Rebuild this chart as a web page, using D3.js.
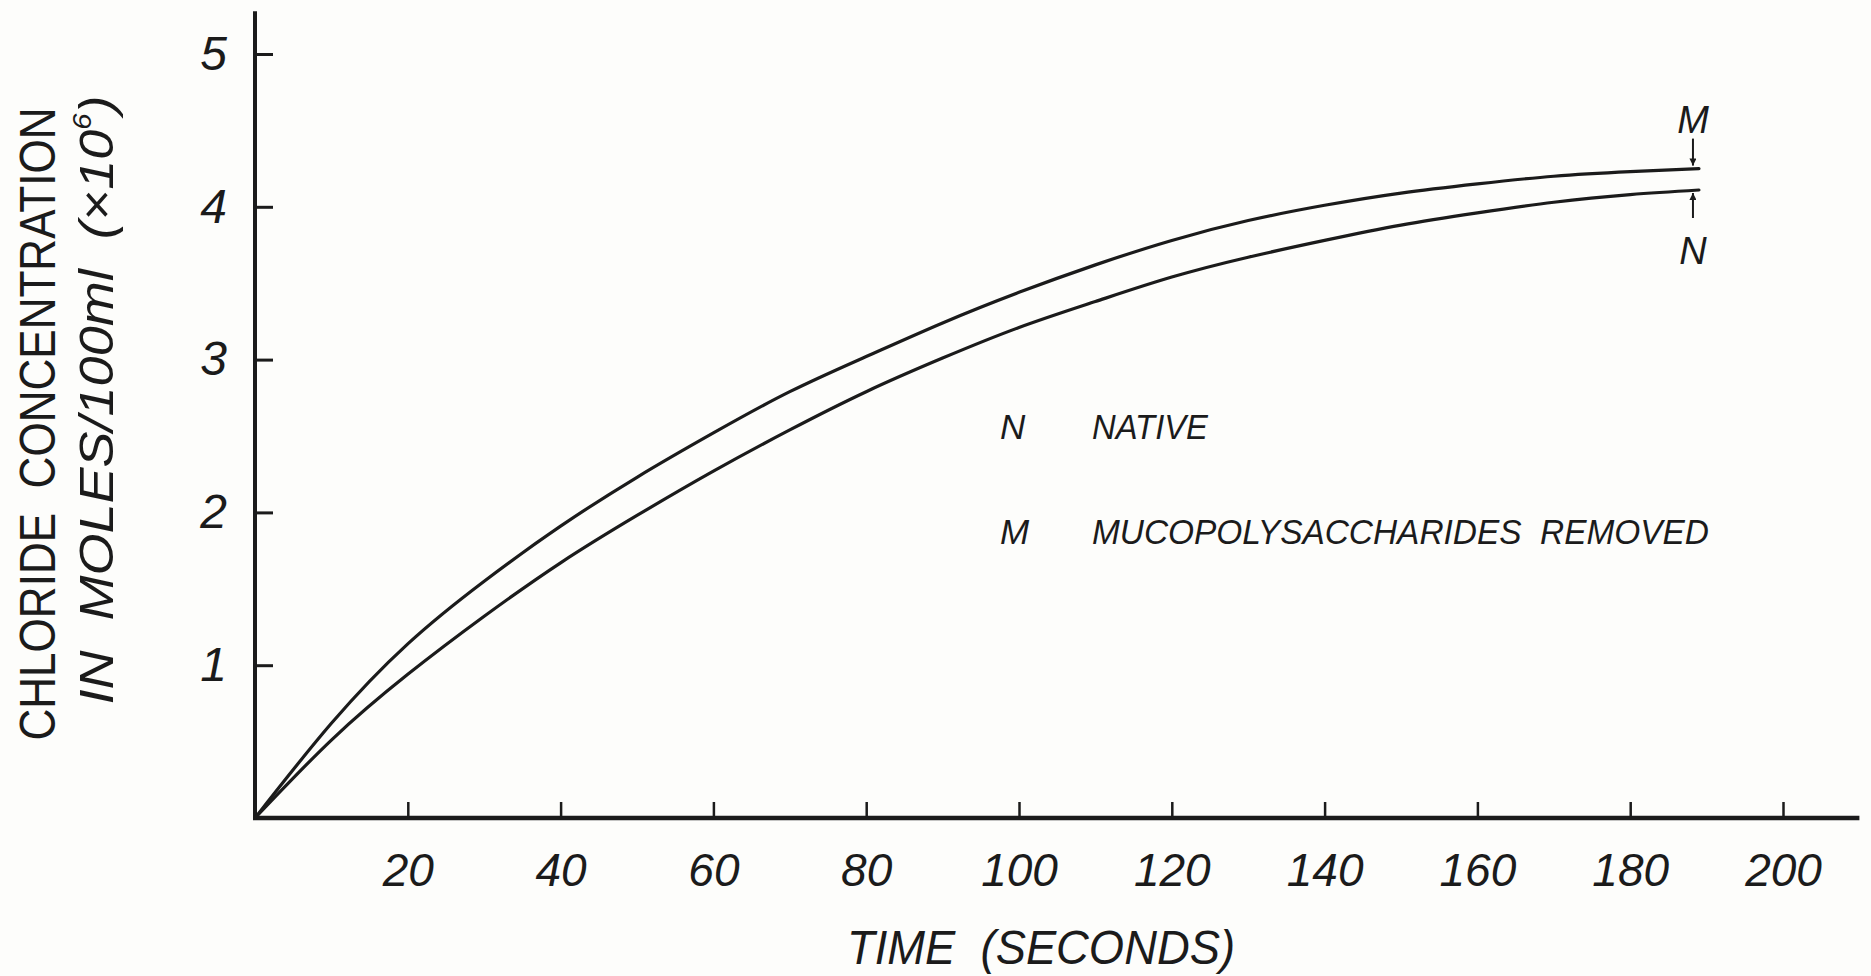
<!DOCTYPE html>
<html>
<head>
<meta charset="utf-8">
<script src="https://cdn.jsdelivr.net/npm/d3@7"></script>
<style>
  html, body { margin: 0; padding: 0; background: #fdfdfb; }
  svg { display: block; }
  text { font-family: "Liberation Sans", Arial, sans-serif; fill: #1b1b1b; }
</style>
</head>
<body>
<svg id="chart" width="1871" height="976"></svg>
<script>
// ---- data ----
const times   = [0, 10, 20, 30, 40, 50, 60, 70, 80, 90, 100, 110, 120, 130, 140, 150, 160, 170, 180, 189];
const seriesM = [0, 0.62, 1.14, 1.55, 1.91, 2.23, 2.52, 2.79, 3.02, 3.24, 3.44, 3.62, 3.78, 3.91, 4.01, 4.09, 4.15, 4.20, 4.23, 4.25];
const seriesN = [0, 0.51, 0.94, 1.32, 1.67, 1.98, 2.27, 2.54, 2.79, 3.01, 3.21, 3.38, 3.54, 3.67, 3.78, 3.88, 3.96, 4.03, 4.08, 4.11];
const xTickValues = [20, 40, 60, 80, 100, 120, 140, 160, 180, 200];
const yTickValues = [1, 2, 3, 4, 5];
const legendKeys  = ["N", "M"];
const legendNames = ["NATIVE", "MUCOPOLYSACCHARIDES  REMOVED"];

// ---- layout ----
const svg = d3.select("#chart");
const ink = "#1b1b1b";
const x = d3.scaleLinear().domain([0, 200]).range([255, 1783]);
const y = d3.scaleLinear().domain([0, 5]).range([818, 54]);
const xEnd = 210, yEnd = 5.28;

// axes lines
svg.append("line")
  .attr("x1", x(0)).attr("x2", x(0)).attr("y1", y(0) + 2).attr("y2", y(yEnd))
  .attr("stroke", ink).attr("stroke-width", 4);
svg.append("line")
  .attr("x1", x(0) - 2).attr("x2", x(xEnd)).attr("y1", y(0)).attr("y2", y(0))
  .attr("stroke", ink).attr("stroke-width", 4.5);

// x axis
const gx = svg.append("g").attr("transform", `translate(0,${y(0)})`)
  .call(d3.axisBottom(x).tickValues(xTickValues).tickSizeInner(-16).tickSizeOuter(0).tickPadding(35));
gx.select(".domain").remove();
gx.selectAll(".tick line").attr("stroke", ink).attr("stroke-width", 2.5);
gx.selectAll(".tick text")
  .style("font-family", "'Liberation Sans', Arial, sans-serif")
  .style("font-style", "italic").attr("font-size", 46).attr("fill", ink);

// y axis
const gy = svg.append("g").attr("transform", `translate(${x(0)},0)`)
  .call(d3.axisLeft(y).tickValues(yTickValues).tickFormat(d3.format("d"))
    .tickSizeInner(-18).tickSizeOuter(0).tickPadding(28));
gy.select(".domain").remove();
gy.selectAll(".tick line").attr("stroke", ink).attr("stroke-width", 3);
gy.selectAll(".tick text")
  .style("font-family", "'Liberation Sans', Arial, sans-serif")
  .style("font-style", "italic").attr("font-size", 48).attr("fill", ink);

// curves
const line = d3.line().x(d => x(d[0])).y(d => y(d[1])).curve(d3.curveNatural);
const dataM = times.map((t, i) => [t, seriesM[i]]);
const dataN = times.map((t, i) => [t, seriesN[i]]);
[dataM, dataN].forEach(d => {
  svg.append("path").attr("d", line(d))
    .attr("fill", "none").attr("stroke", ink).attr("stroke-width", 3.2).attr("stroke-linecap", "round");
});

// end markers with arrows
const lastT = times[times.length - 1];
const mEnd = seriesM[seriesM.length - 1];
const nEnd = seriesN[seriesN.length - 1];
const ax = x(lastT) - 6;
const defs = svg.append("defs");
defs.append("marker").attr("id", "arrow").attr("viewBox", "0 0 10 10")
  .attr("refX", 10).attr("refY", 5).attr("markerWidth", 9).attr("markerHeight", 7)
  .attr("markerUnits", "userSpaceOnUse").attr("orient", "auto")
  .append("path").attr("d", "M0,0 L10,5 L0,10 Z").attr("fill", ink);
svg.append("line").attr("x1", ax).attr("x2", ax)
  .attr("y1", y(mEnd) - 30).attr("y2", y(mEnd) - 3)
  .attr("stroke", ink).attr("stroke-width", 2).attr("marker-end", "url(#arrow)");
svg.append("line").attr("x1", ax).attr("x2", ax)
  .attr("y1", y(nEnd) + 28).attr("y2", y(nEnd) + 3)
  .attr("stroke", ink).attr("stroke-width", 2).attr("marker-end", "url(#arrow)");
svg.append("text").attr("x", ax).attr("y", y(mEnd) - 36)
  .attr("text-anchor", "middle").attr("font-size", 38).style("font-style", "italic").text("M");
svg.append("text").attr("x", ax).attr("y", y(nEnd) + 74)
  .attr("text-anchor", "middle").attr("font-size", 38).style("font-style", "italic").text("N");

// legend
const legY = [439, 544];
legendKeys.forEach((k, i) => {
  svg.append("text").attr("x", 1000).attr("y", legY[i])
    .attr("font-size", 35).style("font-style", "italic").text(k);
});
const legLens = [116, 617];
legendNames.forEach((n, i) => {
  svg.append("text").attr("x", 1092).attr("y", legY[i])
    .attr("font-size", 35).style("font-style", "italic").style("white-space", "pre")
    .attr("textLength", legLens[i]).attr("lengthAdjust", "spacingAndGlyphs").text(n);
});

// axis titles
svg.append("text").attr("transform", "translate(55,424) rotate(-90)")
  .attr("text-anchor", "middle").attr("font-size", 50).style("white-space", "pre")
  .attr("textLength", 633).attr("lengthAdjust", "spacingAndGlyphs")
  .text("CHLORIDE  CONCENTRATION");
const yt2 = svg.append("text").attr("transform", "translate(113,400) rotate(-90)")
  .attr("text-anchor", "middle").attr("font-size", 48).style("font-style", "italic").style("white-space", "pre")
  .attr("textLength", 609).attr("lengthAdjust", "spacingAndGlyphs");
yt2.append("tspan").text("IN  MOLES/100ml  (\u00d710");
yt2.append("tspan").attr("font-size", 26).attr("dy", -22).text("6");
yt2.append("tspan").attr("dy", 22).text(")");

svg.append("text").attr("x", 1041).attr("y", 964)
  .attr("text-anchor", "middle").attr("font-size", 48).style("font-style", "italic").style("white-space", "pre")
  .attr("textLength", 388).attr("lengthAdjust", "spacingAndGlyphs")
  .text("TIME  (SECONDS)");
</script>
</body>
</html>
